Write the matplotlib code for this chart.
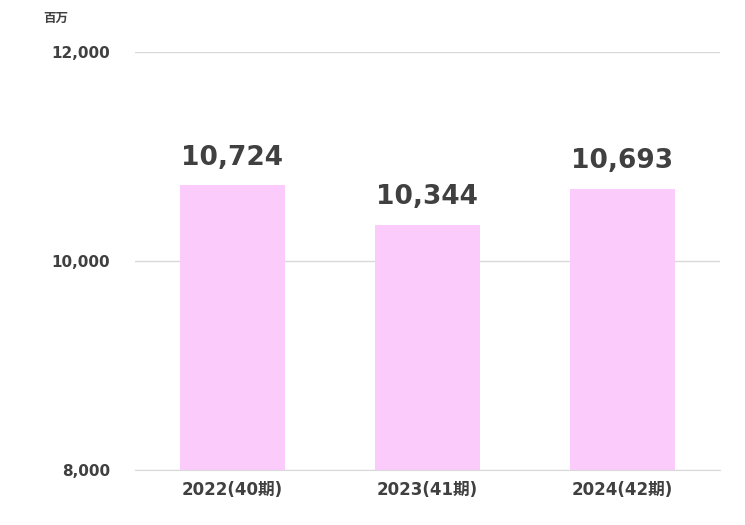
import matplotlib
matplotlib.use("Agg")
import matplotlib.pyplot as plt

plt.rcParams['font.family'] = ['DejaVu Sans', 'Noto Sans CJK JP']

categories = ["2022(40期)", "2023(41期)", "2024(42期)"]
values = [10724, 10344, 10693]
yticks = [8000, 10000, 12000]

fig = plt.figure(figsize=(7.45, 5.25), dpi=100)
ax = fig.add_axes([0.181, 0.105, 0.785, 0.796])
x = range(len(categories))
ax.bar(x, values, width=0.54, color="#FBCBFC", zorder=2)
ax.set_ylim(8000, 12000)
ax.set_xlim(-0.5, 2.5)
ax.set_yticks(yticks)
ax.set_yticklabels([f"{v:,}" for v in yticks], fontsize=11, fontweight='bold', color="#404040")
ax.set_xticks(list(x))
ax.set_xticklabels(categories, fontsize=12, fontweight='bold', color="#404040")
ax.grid(axis='y', color="#D9D9D9", linewidth=1, zorder=0)
for s in ax.spines.values():
    s.set_visible(False)
ax.spines['bottom'].set_visible(True)
ax.spines['bottom'].set_color("#D9D9D9")
ax.tick_params(length=0, pad=8)
ax.tick_params(axis='y', pad=18)
for xi, v in zip(x, values):
    ax.text(xi, v + 140, f"{v:,}", ha='center', va='bottom', fontsize=19, fontweight='bold', color="#404040")
fig.text(0.058, 0.965, "百万", fontsize=9, fontweight='bold', color="#404040", va='center',
         family=['Noto Sans CJK JP'])
fig.savefig("out.png", dpi=100)
